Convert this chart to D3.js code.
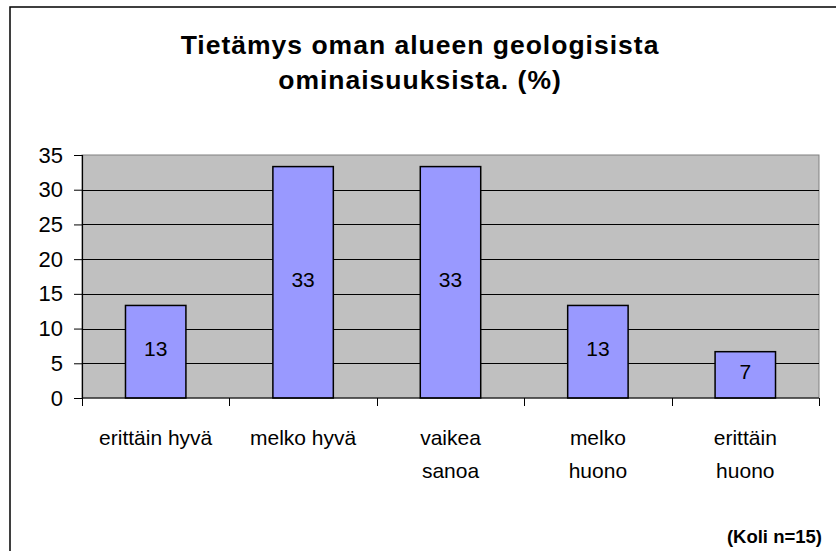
<!DOCTYPE html>
<html>
<head>
<meta charset="utf-8">
<script src="https://cdn.jsdelivr.net/npm/d3@7"></script>
<style>
  body { margin: 0; background: #fff; }
  text { font-family: "Liberation Sans", Arial, sans-serif; }
</style>
</head>
<body>
<div id="chart"></div>
<script>
// data, n = 15 respondents
let categories = ["erittäin hyvä", "melko hyvä", "vaikea\nsanoa", "melko\nhuono", "erittäin\nhuono"];
let percents = [13.33, 33.33, 33.33, 13.33, 6.67];
let valueLabels = ["13", "33", "33", "13", "7"];
let yTicks = [0, 5, 10, 15, 20, 25, 30, 35];
let titleLines = ["Tietämys oman alueen geologisista", "ominaisuuksista. (%)"];
let footnote = "(Koli n=15)";

let W = 836, H = 551;
let margin = { top: 155, right: 17, bottom: 153, left: 82 };
let width = W - margin.left - margin.right, height = H - margin.top - margin.bottom;

let svg = d3.select('#chart')
  .append('svg')
  .attr('width', W)
  .attr('height', H);

// outer frame (only left and top visible)
svg.append('rect')
  .attr('x', 10).attr('y', 7)
  .attr('width', 900).attr('height', 700)
  .attr('fill', 'none')
  .attr('stroke', 'black')
  .attr('stroke-width', 1.5);

// title
svg.append('text')
  .attr('text-anchor', 'middle')
  .style('font-size', '26.5px')
  .style('font-weight', 'bold')
  .style('letter-spacing', '1px')
  .selectAll('tspan')
  .data(titleLines)
  .enter()
  .append('tspan')
  .attr('x', 420)
  .attr('y', (d, i) => 54 + i * 35)
  .text(d => d);

let yS = d3.scaleLinear().domain([0, 35]).range([height, 0]);
let xS = d3.scaleBand().domain(categories).range([0, width]).padding(0);

let graph = svg.append('g')
  .attr('transform', 'translate(' + margin.left + ', ' + margin.top + ')');

// plot background
graph.append('rect')
  .attr('width', width).attr('height', height)
  .attr('fill', '#c0c0c0')
  .attr('stroke', '#808080')
  .attr('stroke-width', 1);

// gridlines
graph.selectAll('.grid')
  .data(yTicks.filter(d => d > 0 && d < 35))
  .enter()
  .append('line')
  .attr('x1', 0).attr('x2', width)
  .attr('y1', d => Math.round(yS(d)) + 0.5)
  .attr('y2', d => Math.round(yS(d)) + 0.5)
  .attr('stroke', 'black')
  .attr('stroke-width', 1);

// bars
let barW = xS.bandwidth() * 0.41;
graph.selectAll('.bar')
  .data(percents)
  .enter()
  .append('rect')
  .attr('x', (d, i) => xS(categories[i]) + (xS.bandwidth() - barW) / 2)
  .attr('y', d => yS(d))
  .attr('width', barW)
  .attr('height', d => height - yS(d))
  .attr('fill', '#9999ff')
  .attr('stroke', 'black')
  .attr('stroke-width', 1.5);

// value labels
graph.selectAll('.val')
  .data(percents)
  .enter()
  .append('text')
  .attr('x', (d, i) => xS(categories[i]) + xS.bandwidth() / 2)
  .attr('y', d => (yS(d) + height) / 2 - 3)
  .attr('text-anchor', 'middle')
  .attr('dominant-baseline', 'central')
  .style('font-size', '21px')
  .text((d, i) => valueLabels[i]);

// y axis
let yAxis = graph.append('g')
  .call(d3.axisLeft(yS).tickValues(yTicks).tickSize(8).tickPadding(11));
yAxis.select('.domain').attr('stroke', 'black').attr('stroke-width', 1.2);
yAxis.selectAll('.tick line').attr('stroke', 'black');
yAxis.selectAll('.tick text')
  .style('font-size', '22px')
  .attr('fill', 'black')
  .attr('font-family', null);

// x axis: line + boundary ticks
graph.append('line')
  .attr('x1', 0).attr('x2', width)
  .attr('y1', height).attr('y2', height)
  .attr('stroke', 'black').attr('stroke-width', 1.2);
graph.selectAll('.xtick')
  .data(categories.concat(['end']))
  .enter()
  .append('line')
  .attr('x1', (d, i) => Math.round(i * xS.step()) + 0.5)
  .attr('x2', (d, i) => Math.round(i * xS.step()) + 0.5)
  .attr('y1', height).attr('y2', height + 8)
  .attr('stroke', 'black');

// category labels
let cat = graph.selectAll('.cat')
  .data(categories)
  .enter()
  .append('text')
  .attr('text-anchor', 'middle')
  .style('font-size', '21px');
cat.selectAll('tspan')
  .data(d => d.split('\n').map(s => ({ s: s, c: d })))
  .enter()
  .append('tspan')
  .attr('x', d => xS(d.c) + xS.bandwidth() / 2)
  .attr('y', (d, i) => height + 47 + i * 33)
  .text(d => d.s);

// footnote
svg.append('text')
  .attr('x', 822)
  .attr('y', 543)
  .attr('text-anchor', 'end')
  .style('font-size', '18.5px')
  .style('font-weight', 'bold')
  .text(footnote);
</script>
</body>
</html>
